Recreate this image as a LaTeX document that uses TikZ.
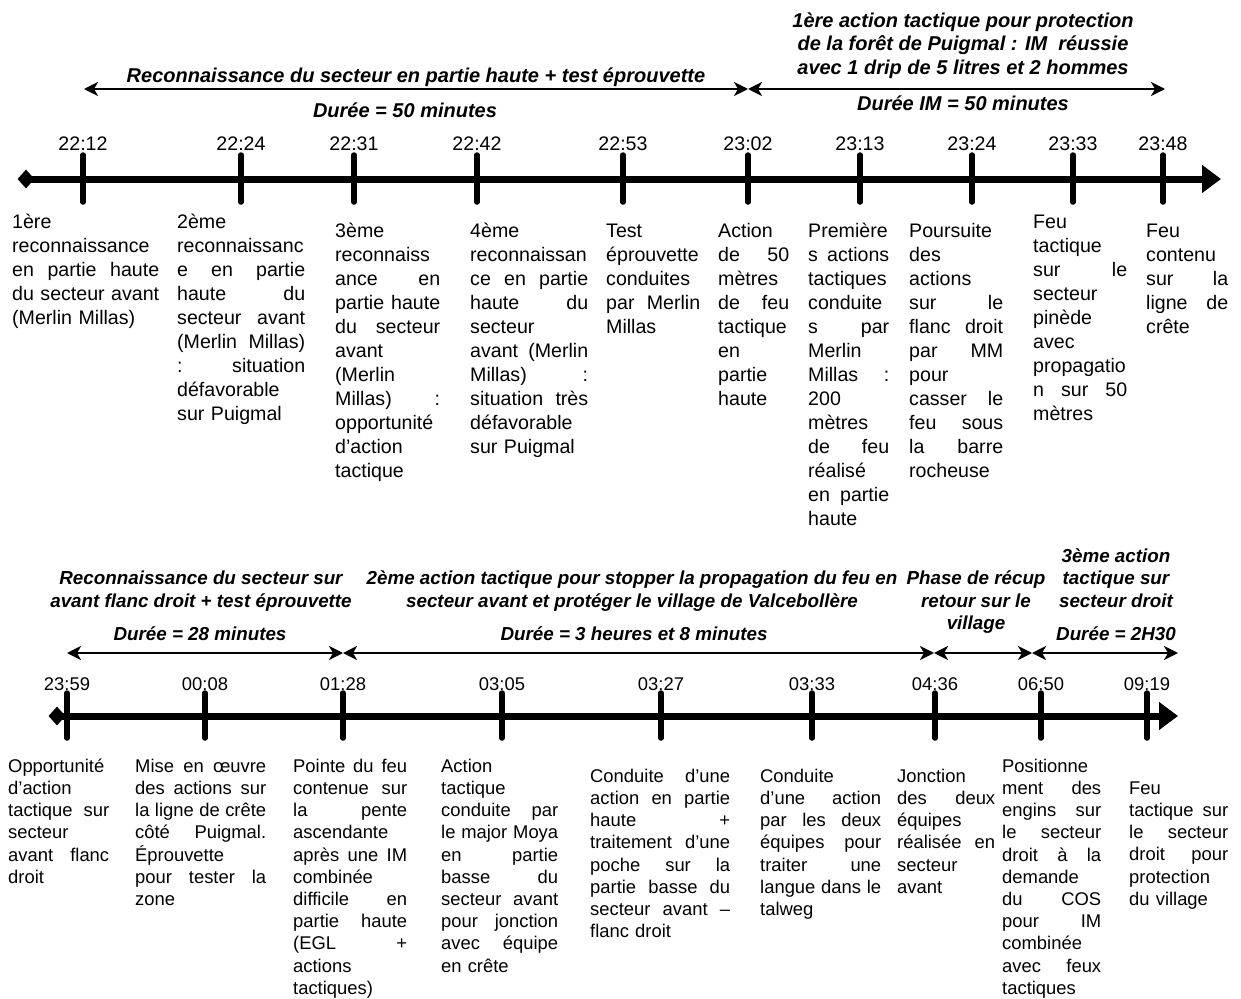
\documentclass[tikz,border=0pt]{standalone}
\usepackage{fontspec}
\setmainfont{Liberation Sans}
\usetikzlibrary{arrows.meta,shapes.geometric}
\newcommand\J[1]{\makebox[\linewidth][s]{\spaceskip=.278em plus 1fil\relax\xspaceskip=\spaceskip #1}}
\begin{document}
\begin{tikzpicture}[x=1pt,y=-1pt,
  tb/.style={anchor=north west,inner sep=0pt,align=left,font=\fontsize{19.6}{24}\selectfont},
  bb/.style={anchor=north west,inner sep=0pt,align=left,font=\fontsize{18.4}{22.2}\selectfont},
  tm/.style={anchor=base,inner sep=0pt,font=\fontsize{19.6}{24}\selectfont},
  tmb/.style={anchor=base,inner sep=0pt,font=\fontsize{18.4}{22.4}\selectfont},
  tt/.style={inner sep=0pt,align=center,font=\fontsize{20}{23.5}\selectfont\bfseries\itshape},
  ttb/.style={inner sep=0pt,align=center,font=\fontsize{18.8}{22.5}\selectfont\bfseries\itshape},
  axis/.style={line width=7pt},
  tick/.style={line width=5.5pt,line cap=round},
  dur/.style={line width=2.8pt,{Stealth[length=14pt,width=14pt,inset=4pt]}-{Stealth[length=14pt,width=14pt,inset=4pt]}},
  start/.style={diamond,fill=black,inner sep=0pt,minimum width=17pt,minimum height=19pt}]
\fill[white] (0,0) rectangle (1241,998);
\useasboundingbox (0,0) rectangle (1241,998);

% ================= TOP TIMELINE =================
\node[tt,anchor=north] (h2) at (963,10.5) {\strut 1ère action tactique pour protection\\ de la forêt de Puigmal : IM~ réussie\\ avec 1 drip de 5 litres et 2 hommes};
\node[tt,anchor=base] (h1) at (416,82) {Reconnaissance du secteur en partie haute + test éprouvette};
\node[tt,anchor=base] (d1) at (405,117) {Durée = 50 minutes};
\node[tt,anchor=base] (d2) at (963,110) {Durée IM = 50 minutes};

\coordinate (p0) at (84,89);
\coordinate (p1) at (748,89);
\coordinate (p2) at (1165,89);
\draw[dur] (p0) -- (p1);
\draw[dur] (p1) -- (p2);

\node[start] (s1) at (26,179) {};
\coordinate (e1) at (1221,179);
\draw[axis,-{Triangle[length=19pt,width=27pt]}] (s1.center) -- (e1);

\foreach \n/\x/\t in {1/83/22:12,2/241/22:24,3/354/22:31,4/477/22:42,5/623/22:53,6/748/23:02,7/860/23:13,8/972/23:24,9/1073/23:33,10/1163/23:48}{
  \coordinate (a\n) at (\x,179);
  \draw[tick] ([yshift=24pt]a\n) -- ([yshift=-23pt]a\n);
  \node[tm] (ta\n) at (\x,150) {\t};
}

\node[tb,text width=147pt] (c1) at (12,211.7) {\strut 1ère\\ reconnaissance\\ \J{en partie haute}\\ \J{du secteur avant}\\ (Merlin Millas)};
\node[tb,text width=128pt] (c2) at (177,211.7) {\strut 2ème\\ reconnaissanc\\ \J{e en partie}\\ \J{haute du}\\ \J{secteur avant}\\ \J{(Merlin Millas)}\\ \J{: situation}\\ défavorable\\ sur Puigmal};
\node[tb,text width=105pt] (c3) at (335,220.7) {\strut 3ème\\ reconnaiss\\ \J{ance en}\\ \J{partie haute}\\ \J{du secteur}\\ avant\\ (Merlin\\ \J{Millas) :}\\ opportunité\\ d’action\\ tactique};
\node[tb,text width=118pt] (c4) at (470,220.7) {\strut 4ème\\ reconnaissan\\ \J{ce en partie}\\ \J{haute du}\\ secteur\\ \J{avant (Merlin}\\ \J{Millas) :}\\ \J{situation très}\\ défavorable\\ sur Puigmal};
\node[tb,text width=94pt] (c5) at (606,220.7) {\strut Test\\ éprouvette\\ conduites\\ \J{par Merlin}\\ Millas};
\node[tb,text width=71pt] (c6) at (718,220.7) {\strut Action\\ \J{de 50}\\ mètres\\ \J{de feu}\\ tactique\\ en\\ partie\\ haute};
\node[tb,text width=81pt] (c7) at (808,220.7) {\strut Première\\ \J{s actions}\\ tactiques\\ conduite\\ \J{s par}\\ Merlin\\ \J{Millas :}\\ 200\\ mètres\\ \J{de feu}\\ réalisé\\ \J{en partie}\\ haute};
\node[tb,text width=94pt] (c8) at (909,220.7) {\strut Poursuite\\ des\\ actions\\ \J{sur le}\\ \J{flanc droit}\\ \J{par MM}\\ pour\\ \J{casser le}\\ \J{feu sous}\\ \J{la barre}\\ rocheuse};
\node[tb,text width=94pt] (c9) at (1033,211.7) {\strut Feu\\ tactique\\ \J{sur le}\\ secteur\\ pinède\\ avec\\ propagatio\\ \J{n sur 50}\\ mètres};
\node[tb,text width=82pt] (c10) at (1146,220.7) {\strut Feu\\ contenu\\ \J{sur la}\\ \J{ligne de}\\ crête};

% ================= BOTTOM TIMELINE =================
\node[ttb,anchor=north] (h3) at (201,568.75) {\strut Reconnaissance du secteur sur\\ avant flanc droit + test éprouvette};
\node[ttb,anchor=north] (h4) at (632,568.75) {\strut 2ème action tactique pour stopper la propagation du feu en\\ secteur avant et protéger le village de Valcebollère};
\node[ttb,anchor=north] (h5) at (976,568.75) {\strut Phase de récup\\ retour sur le\\ village};
\node[ttb,anchor=north] (h6) at (1116,546.25) {\strut 3ème action\\ tactique sur\\ secteur droit};
\node[ttb,anchor=base] (d3) at (200,640) {Durée = 28 minutes};
\node[ttb,anchor=base] (d4) at (634,640) {Durée = 3 heures et 8 minutes};
\node[ttb,anchor=base] (d5) at (1116,640) {Durée = 2H30};

\coordinate (q0) at (67,653);
\coordinate (q1) at (343,653);
\coordinate (q2) at (934,653);
\coordinate (q3) at (1032,653);
\coordinate (q4) at (1178,653);
\draw[dur] (q0) -- (q1);
\draw[dur] (q1) -- (q2);
\draw[dur] (q2) -- (q3);
\draw[dur] (q3) -- (q4);

\node[start] (s2) at (57,716) {};
\coordinate (e2) at (1178,716);
\draw[axis,-{Triangle[length=19pt,width=27pt]}] (s2.center) -- (e2);

\foreach \n/\x/\t in {1/67/23:59,2/205/00:08,3/343/01:28,4/502/03:05,5/661/03:27,6/812/03:33,7/935/04:36,8/1041/06:50,9/1147/09:19}{
  \coordinate (b\n) at (\x,716);
  \draw[tick] ([yshift=23pt]b\n) -- ([yshift=-22pt]b\n);
  \node[tmb] (tb\n) at (\x,690.5) {\t};
}

\node[bb,text width=101pt] (r1) at (8,756.5) {\strut Opportunité\\ d’action\\ \J{tactique sur}\\ secteur\\ \J{avant flanc}\\ droit};
\node[bb,text width=131pt] (r2) at (135,756.5) {\strut \J{Mise en œuvre}\\ \J{des actions sur}\\ \J{la ligne de crête}\\ \J{côté Puigmal.}\\ Éprouvette\\ \J{pour tester la}\\ zone};
\node[bb,text width=114pt] (r3) at (293,756.5) {\strut \J{Pointe du feu}\\ \J{contenue sur}\\ \J{la pente}\\ ascendante\\ \J{après une IM}\\ combinée\\ \J{difficile en}\\ \J{partie haute}\\ \J{(EGL +}\\ actions\\ tactiques)};
\node[bb,text width=117pt] (r4) at (441,756.5) {\strut Action\\ tactique\\ \J{conduite par}\\ \J{le major Moya}\\ \J{en partie}\\ \J{basse du}\\ \J{secteur avant}\\ \J{pour jonction}\\ \J{avec équipe}\\ en crête};
\node[bb,text width=140pt] (r5) at (590,766.5) {\strut \J{Conduite d’une}\\ \J{action en partie}\\ \J{haute +}\\ \J{traitement d’une}\\ \J{poche sur la}\\ \J{partie basse du}\\ \J{secteur avant –}\\ flanc droit};
\node[bb,text width=121pt] (r6) at (760,766.5) {\strut Conduite\\ \J{d’une action}\\ \J{par les deux}\\ \J{équipes pour}\\ \J{traiter une}\\ \J{langue dans le}\\ talweg};
\node[bb,text width=98pt] (r7) at (897,766.5) {\strut Jonction\\ \J{des deux}\\ équipes\\ \J{réalisée en}\\ secteur\\ avant};
\node[bb,text width=99pt] (r8) at (1002,756.5) {\strut Positionne\\ \J{ment des}\\ \J{engins sur}\\ \J{le secteur}\\ \J{droit à la}\\ demande\\ \J{du COS}\\ \J{pour IM}\\ combinée\\ \J{avec feux}\\ tactiques};
\node[bb,text width=99pt] (r9) at (1129,778.5) {\strut Feu\\ \J{tactique sur}\\ \J{le secteur}\\ \J{droit pour}\\ protection\\ du village};
\end{tikzpicture}
\end{document}
